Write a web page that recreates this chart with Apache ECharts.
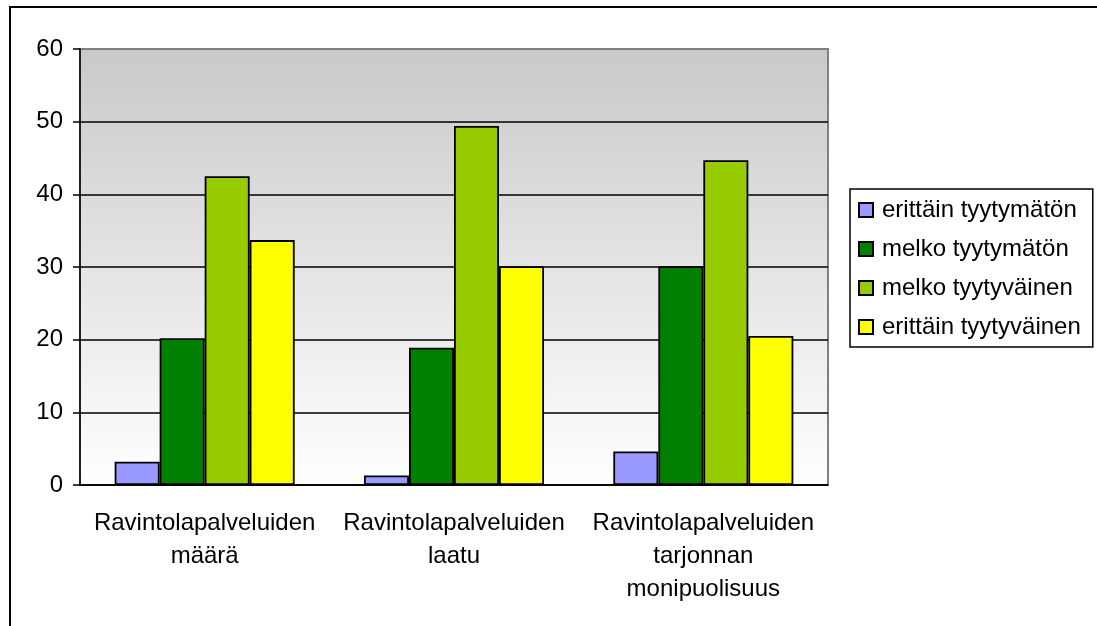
<!DOCTYPE html>
<html>
<head>
<meta charset="utf-8">
<script src="https://cdn.jsdelivr.net/npm/echarts@6/dist/echarts.min.js"></script>
<style>
  html, body { margin: 0; padding: 0; background: #fff; }
  #chart { width: 1097px; height: 626px; }
</style>
</head>
<body>
<div id="chart"></div>
<script>
// Survey: satisfaction with restaurant services (percent of respondents)
const categories = [
  'Ravintolapalveluiden\nmäärä',
  'Ravintolapalveluiden\nlaatu',
  'Ravintolapalveluiden\ntarjonnan\nmonipuolisuus'
];
const seriesNames = [
  'erittäin tyytymätön',
  'melko tyytymätön',
  'melko tyytyväinen',
  'erittäin tyytyväinen'
];
const erittainTyytymaton = [3.2, 1.3, 4.6];
const melkoTyytymaton = [20.2, 18.9, 30.1];
const melkoTyytyvainen = [42.5, 49.4, 44.7];
const erittainTyytyvainen = [33.7, 30.1, 20.5];
const seriesColors = ['#9999FF', '#008000', '#99CC00', '#FFFF00'];

const FONT = "'Liberation Sans', Arial, sans-serif";
const values = [erittainTyytymaton, melkoTyytymaton, melkoTyytyvainen, erittainTyytyvainen];

const chart = echarts.init(document.getElementById('chart'), null, { renderer: 'canvas' });

chart.setOption({
  animation: false,
  backgroundColor: '#ffffff',
  textStyle: { fontFamily: FONT, color: '#000' },
  graphic: [{
    type: 'rect',
    shape: { x: 10, y: 7, width: 1100, height: 630 },
    style: { fill: 'none', stroke: '#000', lineWidth: 2 },
    silent: true,
    z: 100
  }],
  grid: {
    left: 80, top: 49, width: 748, height: 436,
    show: true,
    borderColor: '#808080',
    borderWidth: 2,
    backgroundColor: {
      type: 'linear', x: 0, y: 0, x2: 0, y2: 1,
      colorStops: [
        { offset: 0, color: '#c9c9c9' },
        { offset: 1, color: '#ffffff' }
      ]
    }
  },
  legend: {
    orient: 'vertical',
    left: 850, top: 189,
    padding: [9, 12, 8, 8],
    itemGap: 15,
    itemWidth: 14, itemHeight: 14,
    icon: 'rect',
    borderColor: '#000',
    borderWidth: 1.5,
    backgroundColor: '#fff',
    textStyle: { fontFamily: FONT, fontSize: 24, color: '#000', lineHeight: 24, padding: [0, 0, 0, 4] },
    data: seriesNames
  },
  xAxis: {
    type: 'category',
    data: categories,
    axisLine: { lineStyle: { color: '#000', width: 1.5 } },
    axisTick: { length: 7, lineStyle: { color: '#000', width: 1.5 } },
    axisLabel: {
      fontFamily: FONT, fontSize: 24, color: '#000',
      lineHeight: 33, margin: 22, interval: 0
    }
  },
  yAxis: {
    type: 'value',
    min: 0, max: 60, interval: 10,
    axisLine: { show: true, lineStyle: { color: '#000', width: 1.5 } },
    axisTick: { show: true, length: 7, lineStyle: { color: '#000', width: 1.5 } },
    axisLabel: { fontFamily: FONT, fontSize: 24, color: '#000', margin: 17 },
    splitLine: { show: true, showMaxLine: false, lineStyle: { color: '#000', width: 1.5 } }
  },
  series: seriesNames.map((name, i) => ({
    name: name,
    type: 'bar',
    data: values[i],
    barGap: '0%',
    barCategoryGap: '27.8%',
    itemStyle: { color: seriesColors[i], borderColor: '#000', borderWidth: 1.8 }
  }))
});
</script>
</body>
</html>
